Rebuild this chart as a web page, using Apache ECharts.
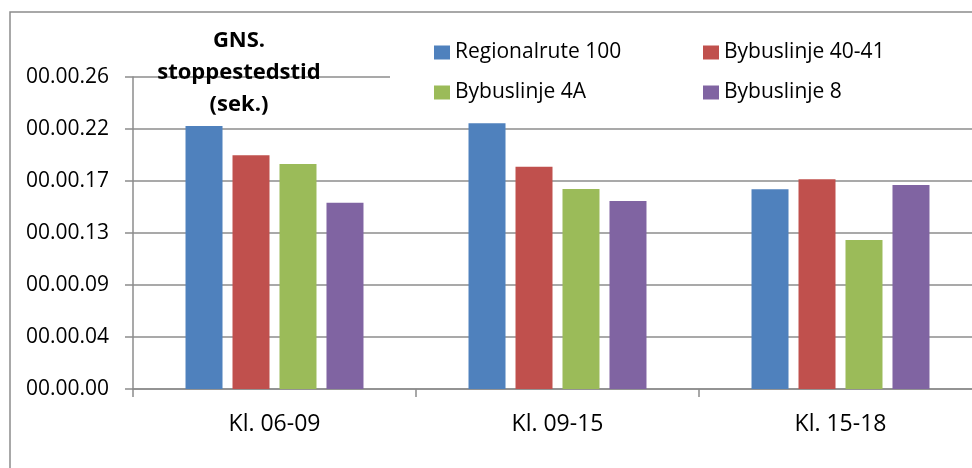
<!DOCTYPE html>
<html>
<head>
<meta charset="utf-8">
<script src="https://cdn.jsdelivr.net/npm/echarts@6/dist/echarts.min.js"></script>
<style>
  html, body { margin: 0; padding: 0; background: #fff; }
  #chart { width: 972px; height: 468px; }
</style>
</head>
<body>
<div id="chart"></div>
<script>
// Average stop dwell time per bus line, in seconds
const categories = ['Kl. 06-09', 'Kl. 09-15', 'Kl. 15-18'];
const seriesNames = ['Regionalrute 100', 'Bybuslinje 40-41', 'Bybuslinje 4A', 'Bybuslinje 8'];
const regionalrute100 = [21.85, 22.07, 16.59];
const bybuslinje4041 = [19.41, 18.47, 17.42];
const bybuslinje4A = [18.69, 16.62, 12.38];
const bybuslinje8 = [15.48, 15.62, 16.95];
const yTickLabels = ['00.00.00', '00.00.04', '00.00.09', '00.00.13', '00.00.17', '00.00.22', '00.00.26'];

const colors = ['#4F81BD', '#C0504D', '#9BBB59', '#8064A2'];
const seriesValues = [regionalrute100, bybuslinje4041, bybuslinje4A, bybuslinje8];
const FONT = 'Open Sans';
const STEP = 4.32; // 0.00005 day in seconds

const chart = echarts.init(document.getElementById('chart'), null, { renderer: 'canvas' });

const legendText = { fontFamily: FONT, fontSize: 21, color: '#000' };

chart.setOption({
  animation: false,
  backgroundColor: '#fff',
  color: colors,
  grid: { left: 133, right: -10, top: 77, bottom: 79, containLabel: false, outerBoundsMode: 'none' },
  title: {
    text: 'GNS.\nstoppestedstid\n(sek.)',
    left: 234,
    top: 20,
    textAlign: 'center',
    textStyle: { fontFamily: FONT, fontSize: 22, fontWeight: 'bold', color: '#000', lineHeight: 32 }
  },
  legend: [
    {
      data: [seriesNames[0], seriesNames[2]],
      orient: 'vertical',
      left: 429, top: 37,
      itemWidth: 16, itemHeight: 14, itemGap: 19,
      icon: 'rect',
      textStyle: legendText
    },
    {
      data: [seriesNames[1], seriesNames[3]],
      orient: 'vertical',
      left: 698, top: 37,
      itemWidth: 16, itemHeight: 14, itemGap: 19,
      icon: 'rect',
      textStyle: legendText
    }
  ],
  graphic: [
    {
      type: 'rect', z: 1, silent: true,
      shape: { x: 390, y: 30, width: 600, height: 80 },
      style: { fill: '#fff' }
    },
    {
      type: 'rect', z: 1, silent: true,
      shape: { x: 10, y: 12, width: 1000, height: 500 },
      style: { fill: 'none', stroke: '#8c8c8c', lineWidth: 1.5 }
    }
  ],
  xAxis: {
    type: 'category',
    data: categories,
    axisLine: { lineStyle: { color: '#8c8c8c', width: 1.5 } },
    axisTick: { show: true, length: 8, lineStyle: { color: '#8c8c8c', width: 1.5 } },
    axisLabel: { fontFamily: FONT, fontSize: 23, color: '#000', margin: 24 }
  },
  yAxis: {
    type: 'value',
    min: 0,
    max: STEP * 6,
    interval: STEP,
    axisLine: { show: true, lineStyle: { color: '#8c8c8c', width: 1.5 } },
    axisTick: { show: true, length: 8, lineStyle: { color: '#8c8c8c', width: 1.5 } },
    splitLine: { lineStyle: { color: '#8c8c8c', width: 1.5 } },
    axisLabel: {
      fontFamily: FONT, fontSize: 21, color: '#000', margin: 24,
      formatter: v => yTickLabels[Math.round(v / STEP)]
    }
  },
  series: seriesNames.map((name, i) => ({
    name,
    type: 'bar',
    data: seriesValues[i],
    barWidth: 37,
    barGap: '27%',
    z: 3
  }))
});
</script>
</body>
</html>
